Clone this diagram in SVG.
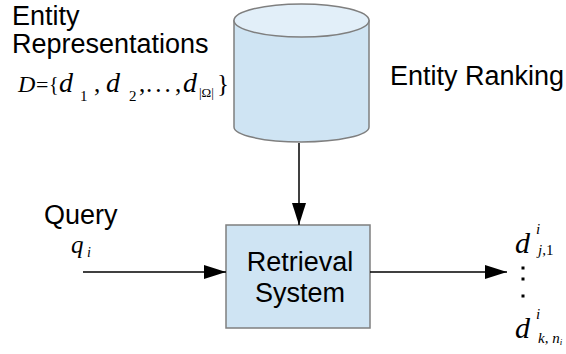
<svg xmlns="http://www.w3.org/2000/svg" width="566" height="354" viewBox="0 0 566 354">
  <style>
    .lbl { font-family: "Liberation Sans", Arial, sans-serif; font-size: 27px; fill: #000; }
    .math { font-family: "Liberation Serif", "Times New Roman", serif; font-style: italic; fill: #000; }
    .up { font-style: normal; }
    .shape { fill: #cfe4f3; stroke: #7f7f7f; stroke-width: 1.5; }
    .edge { stroke: #000; stroke-width: 1.5; fill: none; }
  </style>
  <defs>
    <marker id="arrow" viewBox="0 0 22 14" refX="22" refY="7" markerWidth="22" markerHeight="14" markerUnits="userSpaceOnUse" orient="auto">
      <path d="M0,0 L22,7 L0,14 Z" fill="#000"/>
    </marker>
  </defs>

  <rect width="566" height="354" fill="#fff"/>

  <!-- entity store (cylinder) -->
  <g id="entity-store">
    <path class="shape" d="M234,20.5 L234,127 A67.5,15 0 0 0 369,127 L369,20.5 Z"/>
    <ellipse cx="301.5" cy="20.5" rx="67.5" ry="16.5" fill="#e2eff9" stroke="#7f7f7f" stroke-width="1.5"/>
  </g>

  <g id="entity-representations">
    <text class="lbl" x="12" y="25">Entity</text>
    <text class="lbl" x="12" y="53">Representations</text>
    <!-- D = {d_1, d_2, ..., d_|Ω|} -->
    <g class="math" font-size="25">
      <text font-size="24" x="18" y="92">D</text>
      <text class="up" font-size="22" x="36" y="92">=</text>
      <text class="up" font-size="20" x="49" y="91">{</text>
      <text font-size="28" x="59" y="92">d</text>
      <text class="up" font-size="15" x="80" y="101">1</text>
      <text class="up" x="94" y="92">,</text>
      <text font-size="28" x="106" y="92">d</text>
      <text class="up" font-size="15" x="129" y="101">2</text>
      <text class="up" x="139" y="92">,</text>
      <text class="up" x="146" y="92" letter-spacing="3">...</text>
      <text class="up" x="175" y="92">,</text>
      <text font-size="28" x="183" y="92">d</text>
      <text class="up" font-size="13" x="199" y="97">|Ω|</text>
      <text class="up" x="217" y="92">}</text>
    </g>
  </g>

  <g id="entity-ranking">
    <text class="lbl" x="390" y="85">Entity Ranking</text>
  </g>

  <!-- retrieval system -->
  <g id="retrieval-system">
    <rect class="shape" x="226" y="225" width="144" height="103"/>
    <text class="lbl" x="300" y="271" text-anchor="middle">Retrieval</text>
    <text class="lbl" x="300" y="302" text-anchor="middle">System</text>
  </g>

  <g id="query">
    <text class="lbl" x="44" y="224">Query</text>
    <text class="math" font-size="25" x="71" y="253">q</text>
    <text class="math" font-size="14" x="87" y="257">i</text>
  </g>

  <g id="results">
    <text class="math" font-size="30" x="515" y="253">d</text>
    <text class="math" font-size="15" x="536" y="234">i</text>
    <text class="math" font-size="15" x="538" y="255">j<tspan class="up">,1</tspan></text>
    <g fill="#000">
      <rect x="521.5" y="266.5" width="3" height="3"/>
      <rect x="521.5" y="277.5" width="3" height="3"/>
      <rect x="521.5" y="294.5" width="3" height="3"/>
    </g>
    <text class="math" font-size="30" x="515" y="338">d</text>
    <text class="math" font-size="15" x="536" y="319">i</text>
    <text class="math" font-size="15" x="538" y="343">k<tspan class="up">,</tspan> n<tspan font-size="9" dy="2">i</tspan></text>
  </g>

  <!-- connectors -->
  <g id="connectors">
    <line class="edge" x1="299" y1="143" x2="299" y2="225" marker-end="url(#arrow)"/>
    <line class="edge" x1="83" y1="272" x2="226" y2="272" marker-end="url(#arrow)"/>
    <line class="edge" x1="370" y1="272" x2="507" y2="272" marker-end="url(#arrow)"/>
  </g>
</svg>
